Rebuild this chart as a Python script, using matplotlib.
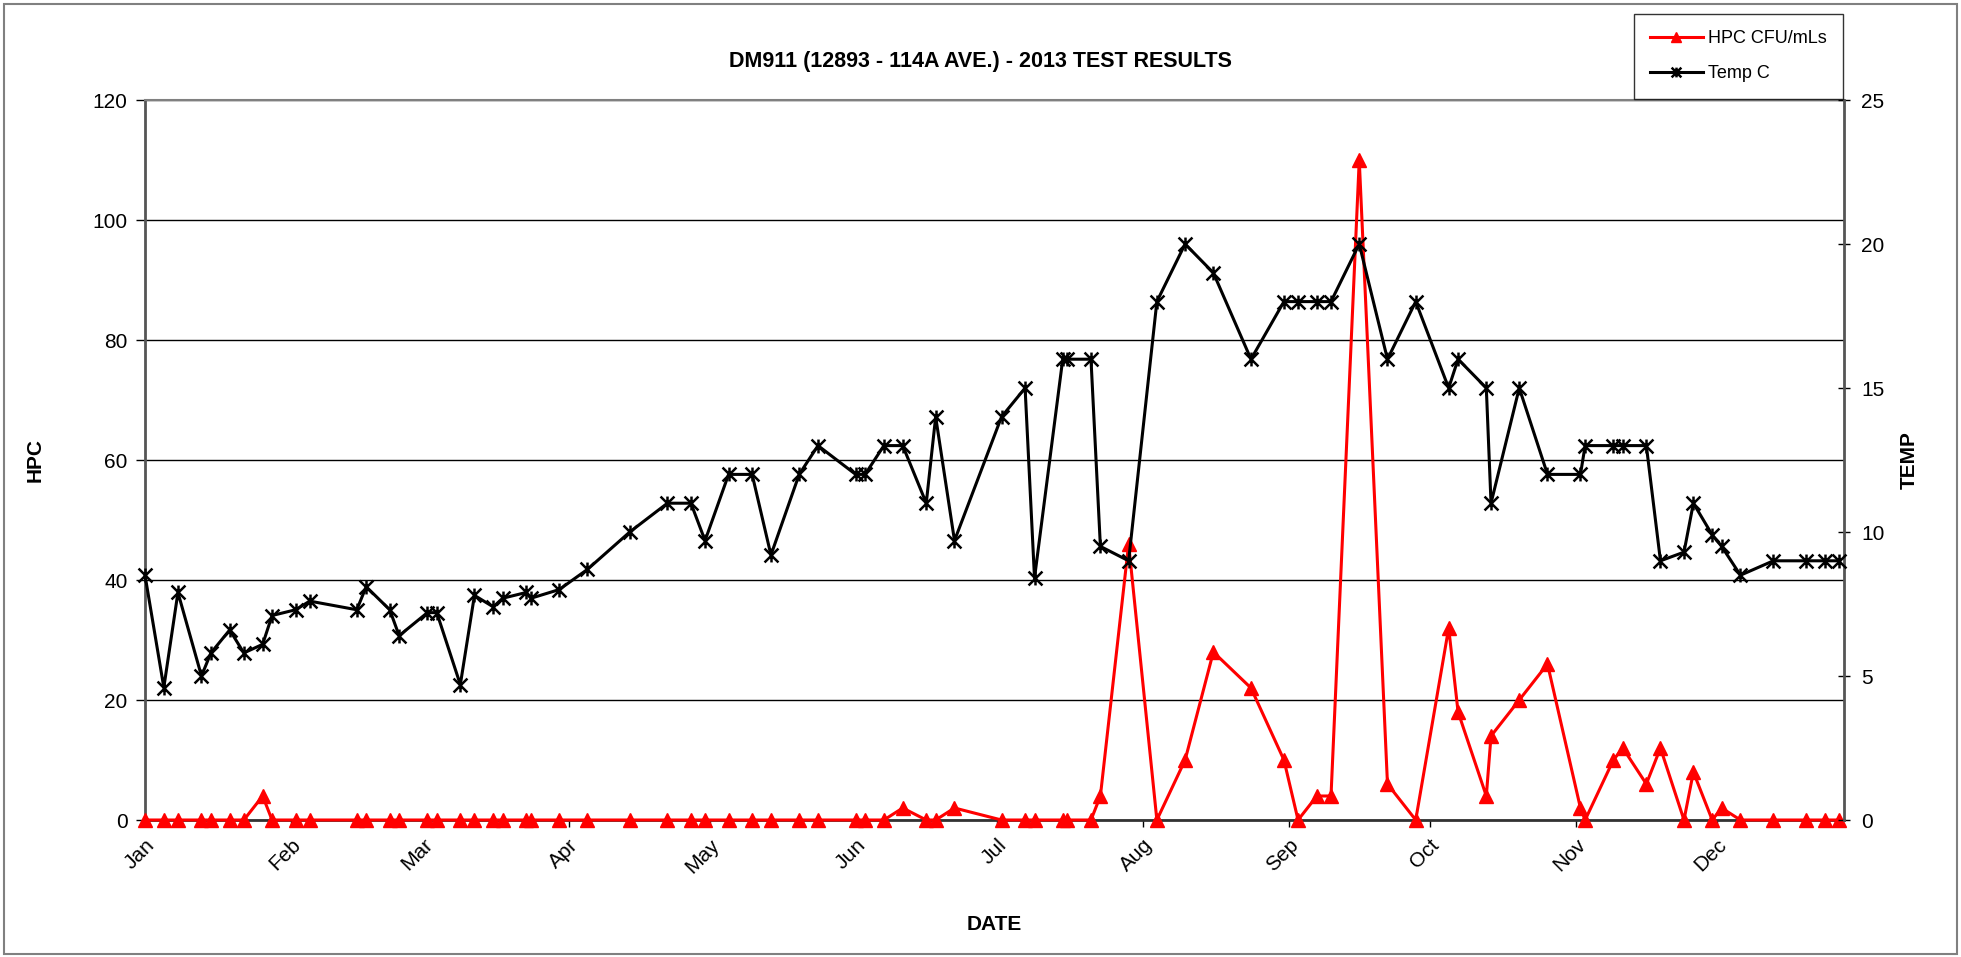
import matplotlib
matplotlib.use('Agg')
import matplotlib.pyplot as plt
import matplotlib.dates as mdates
from matplotlib.patches import Rectangle
from matplotlib.path import Path
import datetime as dt

# ---- data ----
dates = ["2013-01-01", "2013-01-05", "2013-01-08", "2013-01-13", "2013-01-15", "2013-01-19",
         "2013-01-22", "2013-01-26", "2013-01-28", "2013-02-02", "2013-02-05", "2013-02-15",
         "2013-02-17", "2013-02-22", "2013-02-24", "2013-03-02", "2013-03-04", "2013-03-09",
         "2013-03-12", "2013-03-16", "2013-03-18", "2013-03-23", "2013-03-24", "2013-03-30",
         "2013-04-05", "2013-04-14", "2013-04-22", "2013-04-27", "2013-04-30", "2013-05-05",
         "2013-05-10", "2013-05-14", "2013-05-20", "2013-05-24", "2013-06-01", "2013-06-03",
         "2013-06-07", "2013-06-11", "2013-06-16", "2013-06-18", "2013-06-22", "2013-07-02",
         "2013-07-07", "2013-07-09", "2013-07-15", "2013-07-16", "2013-07-21", "2013-07-23",
         "2013-07-29", "2013-08-04", "2013-08-10", "2013-08-16", "2013-08-24", "2013-08-31",
         "2013-09-03", "2013-09-07", "2013-09-10", "2013-09-16", "2013-09-22", "2013-09-28",
         "2013-10-05", "2013-10-07", "2013-10-13", "2013-10-14", "2013-10-20", "2013-10-26",
         "2013-11-02", "2013-11-03", "2013-11-09", "2013-11-11", "2013-11-16", "2013-11-19",
         "2013-11-24", "2013-11-26", "2013-11-30", "2013-12-02", "2013-12-06", "2013-12-13",
         "2013-12-20", "2013-12-24", "2013-12-27"]

hpc = [0, 0, 0, 0, 0, 0, 0, 4, 0, 0, 0, 0,
       0, 0, 0, 0, 0, 0, 0, 0, 0, 0, 0, 0,
       0, 0, 0, 0, 0, 0, 0, 0, 0, 0, 0, 0,
       0, 2, 0, 0, 2, 0, 0, 0, 0, 0, 0, 4,
       46, 0, 10, 28, 22, 10, 0, 4, 4, 110, 6, 0,
       32, 18, 4, 14, 20, 26, 2, 0, 10, 12, 6, 12,
       0, 8, 0, 2, 0, 0, 0, 0, 0]

temp = [8.5, 4.6, 7.9, 5.0, 5.8, 6.6, 5.8, 6.1, 7.1, 7.3, 7.6, 7.3,
        8.1, 7.3, 6.4, 7.2, 7.2, 4.7, 7.8, 7.4, 7.7, 7.9, 7.7, 8.0,
        8.7, 10.0, 11, 11, 9.7, 12, 12, 9.2, 12, 13, 12, 12,
        13, 13, 11, 14, 9.7, 14, 15, 8.4, 16, 16, 16, 9.5,
        9.0, 18, 20, 19, 16, 18, 18, 18, 18, 20, 16, 18,
        15, 16, 15, 11, 15, 12, 12, 13, 13, 13, 13, 9,
        9.3, 11, 9.9, 9.5, 8.5, 9, 9, 9, 9]

title = "DM911 (12893 - 114A AVE.) - 2013 TEST RESULTS"
hpc_label = "HPC CFU/mLs"
temp_label = "Temp C"

plt.rcParams['font.family'] = ['Liberation Sans', 'DejaVu Sans']

# Excel-style star marker: an X with a vertical stroke
star = Path([(-1, -1), (1, 1), (-1, 1), (1, -1), (0, -1), (0, 1)],
            [Path.MOVETO, Path.LINETO, Path.MOVETO, Path.LINETO, Path.MOVETO, Path.LINETO])

W, H = 1961, 957
fig = plt.figure(figsize=(W / 100, H / 100), dpi=100)
L, R, T, B = 145, 1844, 100, 820
ax = fig.add_axes([L / W, 1 - B / H, (R - L) / W, (B - T) / H])
ax2 = ax.twinx()

x = [dt.datetime.strptime(d, "%Y-%m-%d") for d in dates]

l1, = ax.plot(x, hpc, color='#ff0000', lw=2.2, marker='^', ms=10,
              label=hpc_label, clip_on=False, zorder=3)
l2, = ax2.plot(x, temp, color='black', lw=2.2, marker=star, ms=10, mew=1.8,
               label=temp_label, clip_on=False, zorder=3)

ax.set_ylim(0, 120)
ax.set_yticks(range(0, 121, 20))
ax2.set_ylim(0, 25)
ax2.set_yticks(range(0, 26, 5))
ax.set_xlim(dt.datetime(2013, 1, 1), dt.datetime(2013, 12, 28))
ax.xaxis.set_major_locator(mdates.MonthLocator())
ax.xaxis.set_major_formatter(mdates.DateFormatter('%b'))

ax.grid(axis='y', color='black', lw=1.0)
ax.set_axisbelow(True)

for lab in ax.get_xticklabels():
    lab.set_rotation(45)
    lab.set_ha('right')
    lab.set_va('top')
    lab.set_rotation_mode('anchor')

ax.tick_params(axis='x', direction='out', length=5, width=1, labelsize=15, pad=6)
ax.tick_params(axis='y', direction='out', length=6.5, width=1, labelsize=15, pad=6)
ax2.tick_params(axis='y', direction='inout', length=9, width=1, labelsize=15, pad=8)

for a in (ax, ax2):
    for s in a.spines.values():
        s.set_visible(False)
ax.spines['left'].set_visible(True)
ax.spines['left'].set_color('#555555')
ax.spines['left'].set_linewidth(2)
ax.spines['bottom'].set_visible(True)
ax.spines['bottom'].set_color('#333333')
ax.spines['bottom'].set_linewidth(2)
ax.spines['top'].set_visible(True)
ax.spines['top'].set_color('#808080')
ax.spines['top'].set_linewidth(1.5)
ax2.spines['right'].set_visible(True)
ax2.spines['right'].set_color('#555555')
ax2.spines['right'].set_linewidth(2)

fig.text(980 / W, 1 - 61 / H, title, ha='center', va='center',
         fontsize=15.5, fontweight='bold')
fig.text(35 / W, 1 - 460 / H, "HPC", rotation=90, ha='center', va='center',
         fontsize=15, fontweight='bold')
fig.text(1909 / W, 1 - 460 / H, "TEMP", rotation=90, ha='center', va='center',
         fontsize=15, fontweight='bold')
fig.text(0.5 * (L + R) / W, 1 - 925 / H, "DATE", ha='center', va='center',
         fontsize=15, fontweight='bold')

leg = fig.legend(handles=[l1, l2], loc='upper left',
                 bbox_to_anchor=(1634 / W, 1 - 14 / H), frameon=True,
                 fancybox=False, edgecolor='black', fontsize=13,
                 handlelength=2.9, handletextpad=0.3, borderpad=0.9,
                 labelspacing=1.0, markerscale=0.7, borderaxespad=0)
leg.get_frame().set_linewidth(1.0)

fig.patches.append(Rectangle((4 / W, 3 / H), (W - 8) / W, (H - 7) / H,
                             transform=fig.transFigure, fill=False,
                             edgecolor='#808080', lw=1.5))

fig.savefig('out.png', dpi=100)
